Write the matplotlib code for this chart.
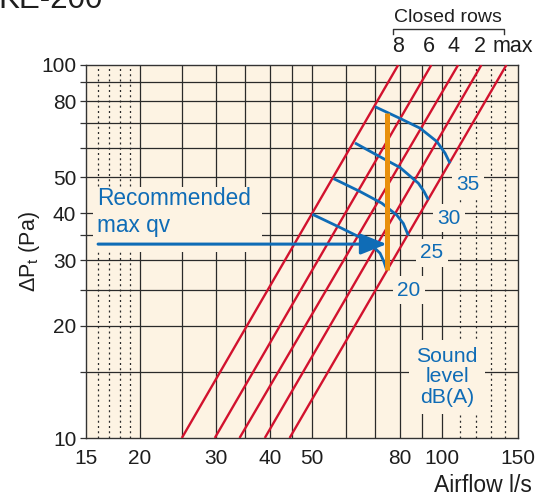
import matplotlib
matplotlib.use("Agg")
import matplotlib.pyplot as plt
from matplotlib.ticker import FixedLocator, NullFormatter, FixedFormatter
from matplotlib.patches import Rectangle

plt.rcParams['font.family'] = ['Liberation Sans', 'DejaVu Sans']
plt.rcParams['mathtext.fontset'] = 'custom'
plt.rcParams['mathtext.rm'] = 'Liberation Sans'
plt.rcParams['mathtext.it'] = 'Liberation Sans'

# ---------------- data ----------------
closed_rows = ["8", "6", "4", "2", "max"]
flow_at_10pa = [25.0, 29.8, 34.0, 38.9, 44.4]       # l/s where each line meets 10 Pa
flow_at_100pa = [79.2, 94.5, 109.0, 123.4, 141.0]   # l/s where each line meets 100 Pa

sound_levels = ["35", "30", "25", "20"]
sound_q = [
    [70.0, 80.0, 89.0, 97.4, 101.7, 104.4],
    [62.9, 70.6, 80.0, 88.2, 90.9, 93.0],
    [56.1, 64.6, 72.6, 78.6, 81.4, 83.6],
    [50.1, 58.6, 67.0, 71.9, 73.4, 74.5],
]
sound_p = [
    [77.3, 71.9, 67.7, 62.3, 58.0, 54.5],
    [61.8, 57.4, 53.1, 48.2, 45.8, 43.5],
    [49.6, 45.8, 42.6, 39.6, 37.6, 34.9],
    [39.8, 36.5, 33.8, 31.3, 29.7, 28.2],
]

max_qv = 74.5
max_qv_p = [28.2, 74.5]
arrow_p = 33.1
arrow_q_start = 16.0

x_ticks = [15, 20, 30, 40, 50, 80, 100, 150]
y_ticks = [10, 20, 30, 40, 50, 80, 100]
x_grid_solid = [20, 25, 30, 35, 40, 45, 50, 60, 70, 80, 90, 100]
x_grid_dotted = [16, 17, 18, 19, 110, 120, 130, 140]
y_grid = [15, 20, 25, 30, 35, 40, 50, 60, 70, 80, 90]

# ---------------- style ----------------
BG = '#FDF3E3'
RED = '#D2122E'
BLUE = '#0F6CB6'
ORANGE = '#E8900C'
GRID = '#2A2A2A'
TXT = '#1E1E1E'

W, H = 544, 497
fig = plt.figure(figsize=(W / 100, H / 100), dpi=100)
L, R, T, B = 86, 518, 65, 438
ax = fig.add_axes([L / W, (H - B) / H, (R - L) / W, (B - T) / H])
ax.set_facecolor(BG)
ax.set_xscale('log')
ax.set_yscale('log')
ax.set_xlim(15, 150)
ax.set_ylim(10, 100)

for s in ax.spines.values():
    s.set_color('#333333')
    s.set_linewidth(1.0)

# grid
for xv in x_grid_solid:
    ax.axvline(xv, color=GRID, lw=0.9, zorder=1)
for xv in x_grid_dotted:
    ax.axvline(xv, color=GRID, lw=0.9, ls=(0, (1.6, 2.6)), zorder=1)
for yv in y_grid:
    ax.axhline(yv, color=GRID, lw=0.9, zorder=1)

# ticks
ax.xaxis.set_major_locator(FixedLocator(x_ticks))
ax.xaxis.set_major_formatter(FixedFormatter([str(v) for v in x_ticks]))
ax.xaxis.set_minor_locator(FixedLocator([]))
ax.yaxis.set_major_locator(FixedLocator(y_ticks))
ax.yaxis.set_major_formatter(FixedFormatter([str(v) for v in y_ticks]))
ax.yaxis.set_minor_locator(FixedLocator(y_grid))
ax.yaxis.set_minor_formatter(NullFormatter())
ax.tick_params(axis='x', which='both', length=0, pad=8, labelsize=15, labelcolor=TXT)
ax.tick_params(axis='y', which='both', length=4, width=0.9, color='#333333',
               direction='out', pad=3, labelsize=15, labelcolor=TXT)

# red characteristic lines
for q10, q100 in zip(flow_at_10pa, flow_at_100pa):
    ax.plot([q10, q100], [10, 100], color=RED, lw=1.7, zorder=4, solid_capstyle='butt')

# blue sound curves
for qs, ps in zip(sound_q, sound_p):
    ax.plot(qs, ps, color=BLUE, lw=2.0, zorder=5, solid_capstyle='butt')

# orange max-flow line
ax.plot([max_qv, max_qv], max_qv_p, color=ORANGE, lw=3.6, zorder=6, solid_capstyle='butt')

# background box behind "Recommended max qv"
ax.add_patch(Rectangle((0.016, 0.499), 0.391, 0.174, transform=ax.transAxes,
                       facecolor=BG, edgecolor='none', zorder=2))
ax.text(0.026, 0.641, "Recommended", transform=ax.transAxes, color=BLUE,
        fontsize=16.3, va='center', ha='left', zorder=3)
ax.text(0.026, 0.571, "max qv", transform=ax.transAxes, color=BLUE,
        fontsize=16.3, va='center', ha='left', zorder=3)

# arrow
ax.annotate("", xy=(max_qv, arrow_p), xytext=(arrow_q_start, arrow_p),
            arrowprops=dict(arrowstyle='-|>,head_length=0.8,head_width=0.32',
                            mutation_scale=20, lw=2.2, color=BLUE,
                            shrinkA=0, shrinkB=0),
            zorder=7)

# sound level labels
label_pos_px = [(468, 184), (449, 218), (432, 253), (409, 290)]
for lab, (px, py) in zip(sound_levels, label_pos_px):
    ax.text((px - L) / (R - L), (B - py) / (B - T), lab, transform=ax.transAxes,
            color=BLUE, fontsize=15, ha='center', va='center', zorder=3,
            bbox=dict(boxstyle='square,pad=0.2', facecolor=BG, edgecolor='none'))

ax.text((447 - L) / (R - L), (B - 377) / (B - T), "Sound\nlevel\ndB(A)",
        transform=ax.transAxes, color=BLUE, fontsize=15.3, ha='center', va='center',
        linespacing=1.1, zorder=3,
        bbox=dict(boxstyle='square,pad=0.35', facecolor=BG, edgecolor='none'))

# closed rows labels above
label_top_px = [398, 429, 454, 480, 513]
for lab, px in zip(closed_rows, label_top_px):
    ax.text((px - L) / (R - L), (B - 47) / (B - T), lab, transform=ax.transAxes,
            color=TXT, fontsize=15.5, ha='center', va='center', clip_on=False)
ax.text((448 - L) / (R - L), (B - 18) / (B - T), "Closed rows", transform=ax.transAxes,
        color=TXT, fontsize=14, ha='center', va='center', clip_on=False)
bx0, bx1, by0, by1 = 393, 504, 29, 34
xs = [(bx0 - L) / (R - L), (bx0 - L) / (R - L), (bx1 - L) / (R - L), (bx1 - L) / (R - L)]
ys = [(B - by1) / (B - T), (B - by0) / (B - T), (B - by0) / (B - T), (B - by1) / (B - T)]
ax.plot(xs, ys, transform=ax.transAxes, color='#333333', lw=1.0, clip_on=False)

# axis labels
fig.text(532 / W, 1 - 486 / H, "Airflow l/s", ha='right', va='center',
         fontsize=16.5, color=TXT)
fig.text(30 / W, 1 - 252 / H, r"$\Delta\mathrm{P}_\mathrm{t}$ (Pa)", rotation=90,
         ha='center', va='center', fontsize=15.5, color=TXT)

# cut-off title
fig.text(-2 / W, 1 - 8 / H, "KE-200", ha='left', va='baseline', fontsize=22.5, color=TXT)

fig.savefig("out.png", dpi=100)
